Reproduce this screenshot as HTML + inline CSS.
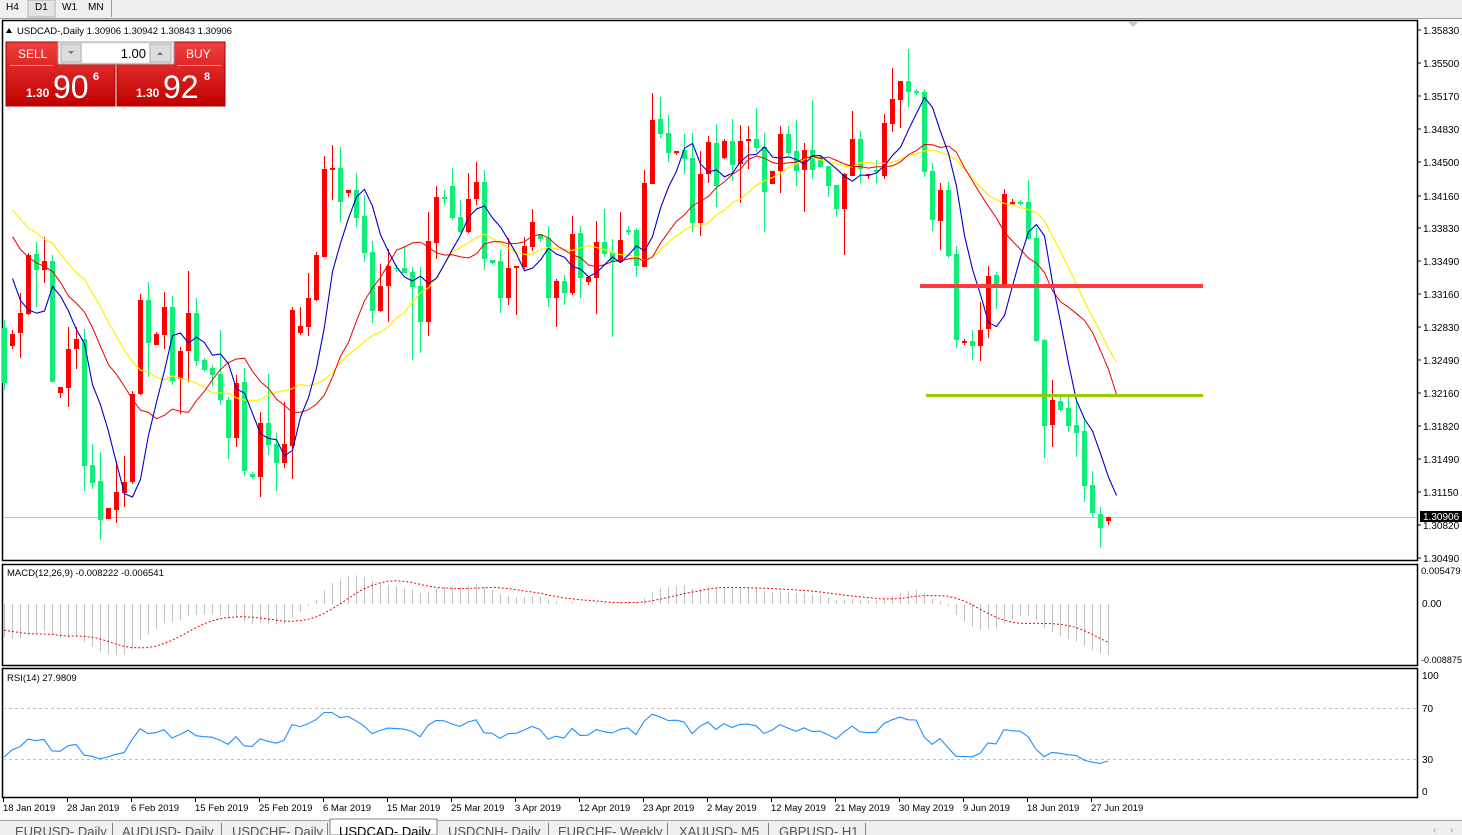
<!DOCTYPE html>
<html><head><meta charset="utf-8"><style>
body{margin:0;width:1462px;height:835px;overflow:hidden;background:#fff;font-family:"Liberation Sans",sans-serif}
svg{display:block}
</style></head><body>
<svg id="s" width="1462" height="835" xmlns="http://www.w3.org/2000/svg" font-family="Liberation Sans, sans-serif"></svg>
<script>
const D=`0 g 328 383 320 390
1 r 334 346 330 349
2 r 313 333 293 358
3 r 255 314 253 315
4 g 254 270 242 307
5 r 261 270 237 283
6 g 261 382 255 382
7 r 387 393 387 398
8 r 349 388 327 407
9 r 339 349 327 369
10 g 339 466 329 491
11 g 465 483 444 489
12 g 481 520 452 540
13 r 508 519 508 519
14 r 492 510 461 523
15 r 482 493 456 507
16 r 394 482 391 484
17 r 300 394 294 395
18 g 300 343 282 377
19 r 334 345 332 345
20 r 307 335 292 349
21 g 307 381 296 385
22 r 351 379 347 414
23 r 313 351 271 382
24 g 313 361 298 366
25 g 360 370 358 372
26 g 368 375 365 386
27 g 374 400 330 405
28 g 400 438 397 459
29 r 383 438 375 447
30 g 382 471 368 476
31 g 474 477 472 479
32 r 423 477 412 497
33 g 423 445 374 455
34 g 444 463 433 491
35 r 444 463 402 468
36 r 310 446 307 479
37 r 326 333 307 335
38 r 298 327 273 336
39 r 255 300 252 301
40 r 169 257 156 257
41 r 168 170 145 200
42 g 168 202 147 222
43 r 190 193 190 197
44 g 190 218 173 227
45 g 216 253 195 262
46 g 252 311 241 323
47 r 286 311 264 312
48 r 266 286 249 322
49 g 268 269 265 272
50 g 268 273 246 273
51 g 272 287 267 360
52 g 286 322 267 353
53 r 241 322 212 336
54 r 197 243 186 259
55 g 197 199 190 205
56 g 186 218 168 220
57 g 217 232 200 233
58 r 199 232 173 233
59 r 182 199 162 205
60 g 182 259 170 270
61 g 260 263 260 265
62 g 261 298 250 313
63 r 268 298 238 305
64 r 266 268 266 315
65 r 246 267 237 269
66 r 222 247 209 251
67 g 234 239 234 242
68 g 238 298 226 307
69 r 281 298 279 327
70 g 281 293 275 305
71 r 234 293 216 295
72 g 233 278 226 298
73 r 277 282 277 285
74 r 242 278 221 314
75 g 242 254 209 257
76 g 252 262 239 337
77 r 240 262 212 263
78 g 230 232 226 235
79 g 230 266 228 277
80 r 183 267 170 267
81 r 120 184 93 184
82 g 119 134 97 138
83 g 133 153 115 162
84 r 151 153 151 155
85 g 150 159 134 174
86 g 158 223 133 232
87 r 174 223 151 236
88 r 142 174 136 183
89 g 143 186 124 207
90 r 141 158 139 159
91 g 141 165 119 181
92 r 141 164 125 203
93 r 139 141 126 169
94 g 139 148 108 152
95 g 147 192 133 232
96 r 171 184 171 184
97 r 134 171 126 193
98 g 134 153 126 155
99 g 151 171 120 186
100 r 150 170 143 212
101 g 150 170 100 179
102 g 157 167 156 168
103 g 166 186 166 197
104 g 185 209 185 217
105 r 174 209 173 255
106 r 139 176 111 176
107 g 139 169 131 183
108 r 174 175 174 179
109 g 170 172 160 183
110 r 123 176 114 179
111 r 99 124 68 132
112 r 81 100 81 128
113 g 81 92 49 107
114 g 91 93 89 95
115 g 92 172 89 177
116 g 171 220 163 231
117 r 190 221 183 250
118 g 190 256 182 258
119 g 254 340 246 348
120 r 341 343 339 345
121 g 341 346 330 360
122 r 330 346 302 361
123 r 276 329 266 338
124 g 275 284 272 309
125 r 194 285 189 285
126 r 202 204 199 204
127 g 202 204 200 206
128 g 202 239 180 240
129 g 238 341 228 342
130 g 340 426 339 458
131 r 400 425 380 447
132 g 401 410 397 411
133 g 408 426 397 432
134 g 425 433 401 457
135 g 431 486 420 502
136 g 485 513 471 517
137 g 514 528 507 548
138 r 517 521 517 525`.split('\n').map(l=>{const a=l.split(' ');return{i:+a[0],c:a[1],bt:+a[2],bb:+a[3],wt:+a[4],wb:+a[5]}});
let o='';
const G='#12ec78',R='#ff0000';
function T(x,y,t,extra){return `<text x="${x}" y="${y}" ${extra||''}>${t}</text>`}
o+=`<defs><linearGradient id="rg" x1="0" y1="0" x2="0" y2="1"><stop offset="0" stop-color="#f04040"/><stop offset="1" stop-color="#c00000"/></linearGradient>
<clipPath id="c1"><rect x="3" y="21" width="1414" height="539"/></clipPath><clipPath id="c2"><rect x="3" y="565" width="1414" height="100"/></clipPath><clipPath id="c3"><rect x="3" y="669" width="1414" height="128"/></clipPath></defs>`;
o+=`<rect x="0" y="0" width="1462" height="18" fill="#f0f0f0"/><line x1="0" y1="18.5" x2="1462" y2="18.5" stroke="#a0a0a0"/>`;
o+=`<rect x="28" y="0" width="27" height="17" fill="#e4e4e4" stroke="#b0b0b0"/>`;
o+=`<g font-size="10" fill="#000">${T(6,10,'H4')}${T(35,10,'D1')}${T(62,10,'W1')}${T(88,10,'MN')}</g>`;
o+=`<line x1="111.5" y1="0" x2="111.5" y2="17" stroke="#a0a0a0"/>`;
o+=`<rect x="2.5" y="20.5" width="1415" height="540" fill="#fff" stroke="#000" stroke-width="1.5"/>`;
o+=`<rect x="2.5" y="564.5" width="1415" height="101" fill="#fff" stroke="#000" stroke-width="1.5"/>`;
o+=`<rect x="2.5" y="668.5" width="1415" height="129" fill="#fff" stroke="#000" stroke-width="1.5"/>`;
const pl=[['1.35830',30],['1.35500',63],['1.35170',96],['1.34830',129],['1.34500',162],['1.34160',196],['1.33830',228],['1.33490',261],['1.33160',294],['1.32830',327],['1.32490',360],['1.32160',393],['1.31820',426],['1.31490',459],['1.31150',492],['1.30820',525],['1.30490',558]];
o+='<g font-size="10" fill="#000">';
pl.forEach(p=>{o+=`<line x1="1418" y1="${p[1]}" x2="1421" y2="${p[1]}" stroke="#000"/>`+T(1423,p[1]+4,p[0])});
o+=T(1421,574,'0.005479','font-size="9.5"')+T(1422,607,'0.00')+T(1421,663,'-0.008875','font-size="9" textLength="41"');
o+=T(1422,679,'100')+T(1422,712,'70')+T(1422,763,'30')+T(1422,795,'0');
o+='</g>';
o+=`<line x1="3" y1="517.5" x2="1417" y2="517.5" stroke="#c0c0c0"/>`;
o+=`<rect x="1420" y="511" width="42" height="11" fill="#000"/><text x="1423" y="520" font-size="10" fill="#fff">1.30906</text>`;
D.forEach(d=>{const x=4+8*d.i,col=d.c=='g'?G:R;
 o+=`<line x1="${x+.5}" y1="${d.wt}" x2="${x+.5}" y2="${d.wb}" stroke="${col}"/>`;
 let h=Math.max(d.bb-d.bt,1);
 o+=`<rect x="${x-2}" y="${d.bt}" width="5" height="${h}" fill="${col}"/>`;
});
const cy=D.map(d=>d.c=='g'?d.bb:d.bt);
const pre=[];for(let k=0;k<30;k++)pre.push(60+k*7+(k%2?18:-18));
const all=pre.concat(cy),P=pre.length;
function sma(n){return cy.map((_,i)=>{let s=0;for(let k=0;k<n;k++)s+=all[P+i-k];return s/n})}
function line(arr,col,w){let pts=arr.map((v,i)=>`${4+8*(i+1)+.5},${v.toFixed(1)}`).join(' ');return `<polyline points="${pts}" fill="none" stroke="${col}" stroke-width="${w}"/>`}
o+=`<g clip-path="url(#c1)">`+line(sma(20),'#ffee00',1.2)+line(sma(13),'#ee0000',1)+line(sma(5),'#0000cc',1.1)+'</g>';
o+=`<rect x="920" y="284" width="283" height="4" fill="#ff3b3b"/><rect x="926" y="394" width="277" height="3" fill="#99cc00"/>`;
o+=`<polygon points="1128,22 1138,22 1133,27" fill="#c8c8c8"/>`;
const pr=all.map(y=>1.3583-(y-30)/9888);
function ema(n){const a=2/(n+1);let e=pr[0],r=[];pr.forEach(v=>{e=e+a*(v-e);r.push(e)});return r}
const e12=ema(12),e26=ema(26),mac=e12.map((v,i)=>v-e26[i]);
const sig=mac.map((_,i)=>{let s=0,c=0;for(let k=0;k<9&&i-k>=0;k++){s+=mac[i-k];c++}return s/c});
const my=v=>570+(0.005479-v)*6270;
o+='<g clip-path="url(#c2)">';
cy.forEach((_,i)=>{const x=4+8*i+.5;o+=`<line x1="${x}" y1="604" x2="${x}" y2="${my(mac[P+i]).toFixed(1)}" stroke="#c0c0c0"/>`});
o+=`<polyline points="${cy.map((_,i)=>`${4+8*i},${my(sig[P+i]).toFixed(1)}`).join(' ')}" fill="none" stroke="#ee0000" stroke-dasharray="2,2"/>`;
o+='</g>';
o+=`<text x="7" y="576" font-size="9.5">MACD(12,26,9) -0.008222 -0.006541</text>`;
let ag=0,al=0,rs=[];
for(let i=1;i<all.length;i++){const ch=-(all[i]-all[i-1]);const g=Math.max(ch,0),l=Math.max(-ch,0);
 if(i<=14){ag+=g/14;al+=l/14}else{ag=(ag*13+g)/14;al=(al*13+l)/14}
 rs[i]=al==0?100:100-100/(1+ag/al)}
const ry=v=>797-1.275*v;
o+=`<line x1="3" y1="708.5" x2="1417" y2="708.5" stroke="#c0c0c0" stroke-dasharray="3,3"/><line x1="3" y1="759.5" x2="1417" y2="759.5" stroke="#c0c0c0" stroke-dasharray="3,3"/>`;
o+=`<g clip-path="url(#c3)"><polyline points="${cy.map((_,i)=>`${4+8*i},${ry(rs[P+i]).toFixed(1)}`).join(' ')}" fill="none" stroke="#1e90ff" stroke-width="1.1"/></g>`;
o+=`<text x="7" y="681" font-size="9.5">RSI(14) 27.9809</text>`;
const dl=['18 Jan 2019','28 Jan 2019','6 Feb 2019','15 Feb 2019','25 Feb 2019','6 Mar 2019','15 Mar 2019','25 Mar 2019','3 Apr 2019','12 Apr 2019','23 Apr 2019','2 May 2019','12 May 2019','21 May 2019','30 May 2019','9 Jun 2019','18 Jun 2019','27 Jun 2019'];
o+='<g font-size="9.5">';dl.forEach((t,k)=>{const x=3+64*k;o+=`<line x1="${x+.5}" y1="798" x2="${x+.5}" y2="802" stroke="#000"/>`+T(x,811,t)});o+='</g>';
o+=`<rect x="0" y="820" width="1462" height="15" fill="#f0f0f0"/><line x1="0" y1="820.5" x2="1462" y2="820.5" stroke="#a0a0a0"/>`;
o+=`<rect x="330" y="819" width="107" height="16" fill="#fff" stroke="#808080"/>`;
const tabs=[['EURUSD- Daily',15],['AUDUSD- Daily',122],['USDCHF- Daily',232],['USDCAD- Daily',339],['USDCNH- Daily',448],['EURCHF- Weekly',558],['XAUUSD- M5',679],['GBPUSD- H1',779]];
tabs.forEach(t=>{o+=`<text x="${t[1]}" y="836" font-size="13" fill="${t[0]=='USDCAD- Daily'?'#000':'#555'}">${t[0]}</text>`});
[112,221,327,548,667,768,865].forEach(x=>o+=`<line x1="${x}.5" y1="823" x2="${x}.5" y2="835" stroke="#808080"/>`);
o+=`<text x="1433" y="833" font-size="10" fill="#999">‹</text><text x="1450" y="833" font-size="10" fill="#999">›</text>`;
o+=`<polygon points="6,33 12,33 9,28" fill="#000"/><text x="17" y="34" font-size="9.5">USDCAD-,Daily  1.30906 1.30942 1.30843 1.30906</text>`;
o+=`<rect x="6" y="42" width="109" height="64" fill="url(#rg)" stroke="#a00000"/><rect x="117" y="42" width="108" height="64" fill="url(#rg)" stroke="#a00000"/>`;
o+=`<line x1="10" y1="65.5" x2="53" y2="65.5" stroke="#ff9090"/><line x1="177" y1="65.5" x2="221" y2="65.5" stroke="#ff9090"/>`;
o+=`<rect x="58" y="42" width="116" height="22" fill="#f0f0f0" stroke="#a0a0a0"/><rect x="61" y="44" width="20" height="18" fill="#dcdcdc" stroke="#b0b0b0"/><rect x="82" y="44" width="67" height="18" fill="#fff"/><rect x="150" y="44" width="21" height="18" fill="#dcdcdc" stroke="#b0b0b0"/>`;
o+=`<polygon points="68,51 74,51 71,54" fill="#6070a0"/><polygon points="157,55 163,55 160,52" fill="#6070a0"/>`;
o+=`<text x="146" y="58" font-size="13" text-anchor="end">1.00</text>`;
o+=`<text x="18" y="58" font-size="12" fill="#fff">SELL</text><text x="186" y="58" font-size="12" fill="#fff">BUY</text>`;
o+=`<text x="26" y="97" font-size="12" font-weight="bold" fill="#fff">1.30</text><text x="53" y="98" font-size="32" fill="#fff">90</text><text x="93" y="80" font-size="11" font-weight="bold" fill="#fff">6</text>`;
o+=`<text x="136" y="97" font-size="12" font-weight="bold" fill="#fff">1.30</text><text x="163" y="98" font-size="32" fill="#fff">92</text><text x="204" y="80" font-size="11" font-weight="bold" fill="#fff">8</text>`;
document.getElementById('s').innerHTML=o;
</script>
</body></html>
